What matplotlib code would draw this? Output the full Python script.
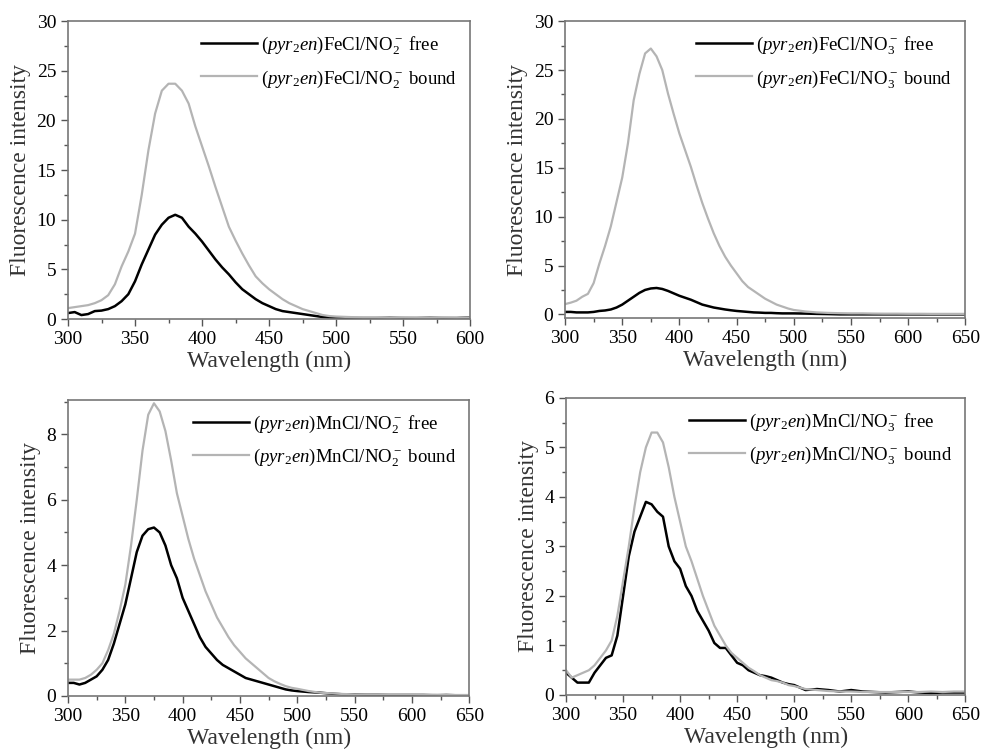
import numpy as np
import matplotlib.pyplot as plt
from matplotlib.ticker import MultipleLocator

plt.rcParams['font.family'] = ['Liberation Serif', 'DejaVu Serif']
plt.rcParams['mathtext.fontset'] = 'custom'
plt.rcParams['mathtext.rm'] = 'Liberation Serif'
plt.rcParams['mathtext.it'] = 'Liberation Serif:italic'

# wavelength grid (nm) used for the hand-read spectra
wl_a = [300, 305, 310, 315, 320, 325, 330, 335, 340, 345, 350, 355, 360, 365, 370, 375, 380,
        385, 390, 395, 400, 405, 410, 415, 420, 425, 430, 435, 440, 445, 450, 455, 460, 465,
        470, 475, 480, 485, 490, 495, 500, 510, 520, 530, 540, 550, 560, 570, 580, 590, 600,
        610, 620, 630, 640, 650]

# (pyr2en)FeCl / NO2-
fe_no2_free = [0.6, 0.7, 0.4, 0.5, 0.8, 0.85, 1.0, 1.3, 1.8, 2.5, 3.8, 5.5, 7.0, 8.5, 9.5, 10.2, 10.5,
               10.2, 9.3, 8.6, 7.8, 6.9, 6.0, 5.2, 4.5, 3.7, 3.0, 2.5, 2.0, 1.6, 1.3, 1.0, 0.8, 0.7,
               0.6, 0.5, 0.4, 0.3, 0.2, 0.15, 0.1, 0.1, 0.1, 0.1, 0.12, 0.1, 0.1, 0.12, 0.1, 0.1, 0.15]
fe_no2_bound = [1.1, 1.2, 1.3, 1.4, 1.6, 1.9, 2.4, 3.5, 5.3, 6.8, 8.6, 12.5, 17.0, 20.7, 23.0, 23.7, 23.7,
                23.0, 21.7, 19.4, 17.4, 15.4, 13.3, 11.3, 9.3, 7.9, 6.6, 5.4, 4.3, 3.6, 3.0, 2.5, 2.0, 1.6,
                1.3, 1.0, 0.8, 0.6, 0.4, 0.3, 0.25, 0.2, 0.15, 0.15, 0.12, 0.15, 0.12, 0.12, 0.15, 0.12, 0.15]

# (pyr2en)FeCl / NO3-
fe_no3_free = [0.25, 0.25, 0.2, 0.2, 0.2, 0.25, 0.35, 0.4, 0.5, 0.7, 1.0, 1.4, 1.8, 2.2, 2.5, 2.65, 2.7,
               2.6, 2.4, 2.15, 1.9, 1.7, 1.5, 1.25, 1.0, 0.85, 0.7, 0.6, 0.5, 0.42, 0.35, 0.3, 0.25, 0.2,
               0.18, 0.15, 0.15, 0.12, 0.1, 0.1, 0.1, 0.08, 0.05, 0.03, 0.0, 0.0, 0.0, 0.0, 0.0, 0.0, 0.0,
               0.0, 0.0, 0.0, 0.0, 0.0]
fe_no3_bound = [1.05, 1.2, 1.4, 1.8, 2.1, 3.2, 5.2, 7.0, 9.0, 11.5, 14.0, 17.5, 21.9, 24.6, 26.7, 27.2, 26.4,
                25.0, 22.6, 20.5, 18.5, 16.8, 15.1, 13.2, 11.4, 9.8, 8.3, 7.0, 5.9, 5.0, 4.2, 3.4, 2.8, 2.4,
                2.0, 1.6, 1.3, 1.0, 0.8, 0.6, 0.45, 0.3, 0.2, 0.15, 0.12, 0.1, 0.1, 0.08, 0.07, 0.07, 0.06,
                0.06, 0.05, 0.05, 0.05, 0.05]

# (pyr2en)MnCl / NO2-
mn_no2_free = [0.4, 0.4, 0.35, 0.4, 0.5, 0.6, 0.8, 1.1, 1.6, 2.2, 2.8, 3.6, 4.4, 4.9, 5.1, 5.15, 5.0,
               4.6, 4.0, 3.6, 3.0, 2.6, 2.2, 1.8, 1.5, 1.3, 1.1, 0.95, 0.85, 0.75, 0.65, 0.55, 0.5, 0.45,
               0.4, 0.35, 0.3, 0.25, 0.2, 0.17, 0.15, 0.12, 0.1, 0.07, 0.05, 0.05, 0.04, 0.04, 0.03, 0.03,
               0.03, 0.03, 0.02, 0.03, 0.02, 0.02]
mn_no2_bound = [0.5, 0.5, 0.5, 0.55, 0.65, 0.8, 1.0, 1.4, 1.9, 2.6, 3.4, 4.6, 6.0, 7.5, 8.6, 8.95, 8.7,
                8.1, 7.2, 6.2, 5.5, 4.8, 4.2, 3.7, 3.2, 2.8, 2.4, 2.1, 1.8, 1.55, 1.35, 1.15, 1.0, 0.85,
                0.7, 0.55, 0.45, 0.37, 0.3, 0.25, 0.22, 0.15, 0.1, 0.08, 0.06, 0.05, 0.05, 0.05, 0.05, 0.05,
                0.05, 0.04, 0.04, 0.03, 0.03, 0.03]

# (pyr2en)MnCl / NO3-
mn_no3_free = [0.45, 0.35, 0.25, 0.25, 0.25, 0.45, 0.6, 0.75, 0.8, 1.2, 2.0, 2.8, 3.3, 3.6, 3.9, 3.85, 3.7,
               3.6, 3.0, 2.7, 2.55, 2.2, 2.0, 1.7, 1.5, 1.3, 1.05, 0.95, 0.95, 0.8, 0.65, 0.6, 0.5, 0.45,
               0.4, 0.38, 0.35, 0.3, 0.25, 0.22, 0.2, 0.1, 0.12, 0.1, 0.07, 0.1, 0.07, 0.06, 0.05, 0.06, 0.07,
               0.05, 0.04, 0.05, 0.05, 0.05]
mn_no3_bound = [0.5, 0.35, 0.4, 0.45, 0.5, 0.6, 0.75, 0.9, 1.1, 1.6, 2.3, 3.0, 3.8, 4.5, 5.0, 5.3, 5.3,
                5.1, 4.6, 4.0, 3.5, 3.0, 2.7, 2.35, 2.0, 1.7, 1.4, 1.2, 1.0, 0.85, 0.75, 0.65, 0.55, 0.48,
                0.4, 0.35, 0.3, 0.28, 0.25, 0.2, 0.18, 0.12, 0.1, 0.08, 0.07, 0.07, 0.06, 0.06, 0.06, 0.06,
                0.06, 0.06, 0.07, 0.06, 0.07, 0.07]

panels = [
    dict(free=fe_no2_free, bound=fe_no2_bound, metal="FeCl", anion="NO$_2^-$", xmax=600,
         ylim=(0, 30), ymaj=5, ymin=2.5, pos=[0.0693, 0.578, 0.410, 0.394]),
    dict(free=fe_no3_free, bound=fe_no3_bound, metal="FeCl", anion="NO$_3^-$", xmax=650,
         ylim=(-0.4, 30), ymaj=5, ymin=2.5, pos=[0.576, 0.579, 0.408, 0.393]),
    dict(free=mn_no2_free, bound=mn_no2_bound, metal="MnCl", anion="NO$_2^-$", xmax=650,
         ylim=(0, 9.05), ymaj=2, ymin=1, pos=[0.0693, 0.0794, 0.409, 0.3915]),
    dict(free=mn_no3_free, bound=mn_no3_bound, metal="MnCl", anion="NO$_3^-$", xmax=650,
         ylim=(0, 6), ymaj=1, ymin=0.5, pos=[0.577, 0.0807, 0.407, 0.393]),
]

fig = plt.figure(figsize=(9.81, 7.56), dpi=100)
for p in panels:
    ax = fig.add_axes(p["pos"])
    n = len(p["free"])
    wl = np.array(wl_a[:n])
    prefix = r"($\it{pyr_2en}$)" + p["metal"] + "/" + p["anion"]
    ax.plot(wl, p["free"], color="black", lw=1.8, label=prefix + " free")
    ax.plot(wl, p["bound"], color="#b4b4b4", lw=1.6, label=prefix + " bound")
    ax.set_xlim(300, p["xmax"])
    ax.set_ylim(*p["ylim"])
    ax.xaxis.set_major_locator(MultipleLocator(50))
    ax.xaxis.set_minor_locator(MultipleLocator(25))
    ax.yaxis.set_major_locator(MultipleLocator(p["ymaj"]))
    ax.yaxis.set_minor_locator(MultipleLocator(p["ymin"]))
    ax.tick_params(which="major", direction="out", length=5, width=1, labelsize=14, color="#555555")
    ax.tick_params(which="minor", direction="out", length=3, width=1, color="#555555")
    for s in ax.spines.values():
        s.set_color("#777777")
        s.set_linewidth(1.2)
    ax.set_xlabel("Wavelength (nm)", fontsize=17, color="#333333", labelpad=2)
    ax.set_ylabel("Fluorescence intensity", fontsize=17, color="#333333", labelpad=4)
    ax.legend(loc="upper right", frameon=False, fontsize=13.5, handlelength=3.0,
              handletextpad=0.2, borderaxespad=0.3, labelspacing=0.6)

fig.savefig("out.png", dpi=100)
